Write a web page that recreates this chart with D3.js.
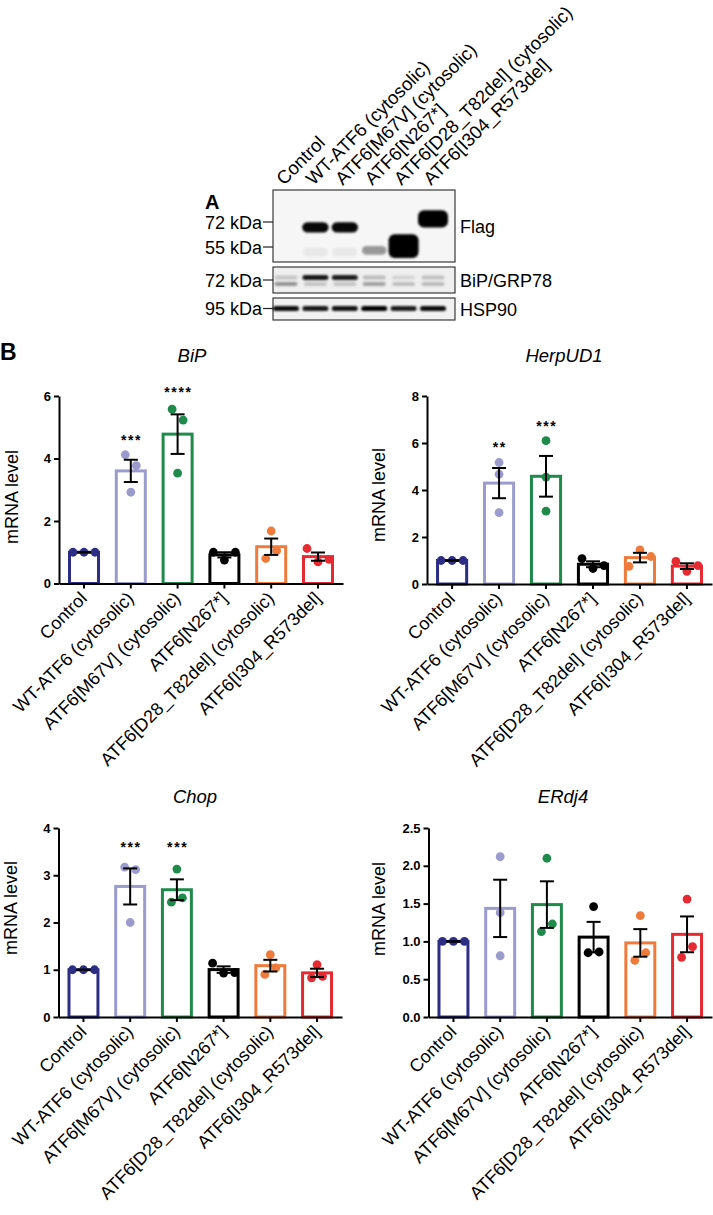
<!DOCTYPE html>
<html><head><meta charset="utf-8">
<script src="https://cdn.jsdelivr.net/npm/d3@7"></script>
<style>
body{margin:0;background:#fff;}
svg{display:block;font-family:"Liberation Sans",Arial,Helvetica,sans-serif;}
</style></head><body>
<svg id="fig" width="713" height="1215"></svg>
<script>
// ---------------- DATA ----------------
const groups = ["Control","WT-ATF6 (cytosolic)","ATF6[M67V] (cytosolic)","ATF6[N267*]","ATF6[D28_T82del] (cytosolic)","ATF6[I304_R573del]"];
const groupColors = ["#2D2E83","#9B9BCE","#1F8A4B","#000000","#EE7B3B","#E52A32"];

// Panel A – western blot
const flagMarkers = [72, 55];
const bipMarkers = [72];
const hspMarkers = [95];
const flagLane   = [1, 2, 3, 4, 5, 1, 2];
const flagKDa    = [68, 68, 53, 55.5, 74.5, 52, 52];
const flagSignal = [0.97, 0.97, 0.38, 1, 1, 0.06, 0.06];
const flagLoad   = [1.05, 1.05, 0.8, 3.3, 2.2, 0.8, 0.8];
const bipUpperKDa = 74, bipLowerKDa = 69;
const bipUpper = [0.18, 0.9, 0.88, 0.22, 0.12, 0.2];
const bipLower = [0.38, 0.18, 0.18, 0.32, 0.2, 0.22];
const hspKDa = 95;
const hspSignal = [0.95, 0.9, 0.92, 1, 0.88, 0.95];

// Panel B – mRNA levels (three replicates per group)
const bipPoints   = [[1,1,1],[4.12,3.77,2.92],[5.58,5.23,3.53],[1.0,0.75,1.0],[0.80,1.68,1.05],[1.12,0.69,0.77]];
const herpPoints  = [[1,1,1],[5.17,4.67,3.04],[6.1,4.55,3.1],[1.08,0.66,0.78],[0.75,1.45,1.17],[0.96,0.54,0.78]];
const chopPoints  = [[1,1,1],[3.17,3.12,2.0],[2.43,3.13,2.52],[1.14,0.93,0.94],[0.90,1.32,1.04],[0.83,1.11,0.86]];
const erdjPoints  = [[1,1,1],[2.12,1.38,0.81],[2.10,1.13,1.23],[1.46,0.85,0.86],[1.34,0.75,0.85],[1.56,0.79,0.93]];
const bipTicks  = [0,2,4,6];
const herpTicks = [0,2,4,6,8];
const chopTicks = [0,1,2,3,4];
const erdjTicks = [0,0.5,1,1.5,2,2.5];
const bipSig  = [null,"***","****",null,null,null];
const bipSigAt  = [null,4.70,6.23,null,null,null];
const herpSig = [null,"**","***",null,null,null];
const herpSigAt = [null,5.99,6.86,null,null,null];
const chopSig = [null,"***","***",null,null,null];
const chopSigAt = [null,3.68,3.68,null,null,null];

// ---------------- DRAW ----------------
const svg = d3.select("#fig");
const defs = svg.append("defs");
defs.append("filter").attr("id","blur").attr("x","-50%").attr("y","-100%").attr("width","200%").attr("height","300%")
  .append("feGaussianBlur").attr("stdDeviation",1.3);

// ---- Panel A ----
const gA = svg.append("g");
gA.append("text").attr("x",205).attr("y",209).attr("font-size",20).attr("font-weight","bold").text("A");

const laneX = d3.scalePoint().domain(d3.range(6)).range([286, 433]);
const blotL = 273, blotR = 455;
const boxes = [
  {y0:190, y1:262, name:"Flag", fill:"#f6f6f6"},
  {y0:267, y1:293, name:"BiP/GRP78", fill:"#efefef"},
  {y0:298, y1:320, name:"HSP90", fill:"#f1f1f1"}
];
function kdaScale(refKDa, refY){ return d3.scaleLog().domain([refKDa*Math.exp(-0.2693), refKDa]).range([refY+25, refY]); }
const flagY = kdaScale(72, 222);
const bipY  = kdaScale(72, 280);
const hspY  = kdaScale(95, 308.5);

boxes.forEach(b => {
  gA.append("rect").attr("x",blotL).attr("y",b.y0).attr("width",blotR-blotL).attr("height",b.y1-b.y0)
    .attr("fill",b.fill).attr("stroke","#3a3a3a").attr("stroke-width",1.2);
  gA.append("text").attr("x",blotR+5).attr("y",(b.y0+b.y1)/2+6.5).attr("font-size",18).text(b.name);
});

const bandG = gA.append("g").attr("filter","url(#blur)");
function band(cx, cy, w, h, a){
  bandG.append("rect").attr("x",cx-w/2).attr("y",cy-h/2).attr("width",w).attr("height",h)
    .attr("rx",Math.min(h/2,6)).attr("fill","#000").attr("fill-opacity",a);
}
flagLane.forEach((l,i) => {
  const load = flagLoad[i];
  band(laneX(l), flagY(flagKDa[i]), Math.min(30, 18+8*load), 4+6*load, flagSignal[i]);
});
bipUpper.forEach((a,i) => band(laneX(i), bipY(bipUpperKDa), a>0.5?26:23, a>0.5?5:4, a));
bipLower.forEach((a,i) => band(laneX(i), bipY(bipLowerKDa), 23, 4, a));
hspSignal.forEach((a,i) => band(laneX(i), hspY(hspKDa), 26, 5, a));

function markerLabels(markers, sc){
  markers.forEach(m => {
    const yy = sc(m);
    gA.append("line").attr("x1",blotL-10).attr("x2",blotL).attr("y1",yy).attr("y2",yy).attr("stroke","#222").attr("stroke-width",1.2);
    gA.append("text").attr("x",blotL-11).attr("y",yy+6.5).attr("text-anchor","end").attr("font-size",18).text(m+" kDa");
  });
}
markerLabels(flagMarkers, flagY);
markerLabels(bipMarkers, bipY);
markerLabels(hspMarkers, hspY);

groups.forEach((gname,i) => {
  gA.append("text").attr("transform",`translate(${laneX(i)-2},186) rotate(-45)`)
    .attr("font-size",18.5).text(gname);
});

// ---- Panel B ----
svg.append("text").attr("x",0).attr("y",360).attr("font-size",23).attr("font-weight","bold").text("B");

function layoutPoints(vals, y){
  // cluster nearby values (pixel distance) and spread them horizontally, replicate order left→right
  const idx = vals.map((v,i)=>i).sort((a,b)=>vals[a]-vals[b]);
  const clusters = [];
  idx.forEach(i => {
    const last = clusters[clusters.length-1];
    if (last && Math.abs(y(vals[i]) - y(vals[last[last.length-1]])) < 11.3) last.push(i);
    else clusters.push([i]);
  });
  const off = new Array(vals.length).fill(0);
  clusters.forEach(c => {
    c.sort((a,b)=>a-b);
    c.forEach((i,k) => off[i] = (k - (c.length-1)/2) * 11);
  });
  return off;
}

function barChart(cfg){
  const g = svg.append("g");
  const x = d3.scaleBand().domain(d3.range(6)).range([cfg.x0, cfg.x1]).paddingInner(0.316).paddingOuter(0.1923);
  const y = d3.scaleLinear().domain([0, cfg.yMax]).range([cfg.yBot, cfg.yTop]);
  const bw = x.bandwidth();
  const stats = cfg.points.map(p => {
    const m = d3.mean(p);
    const sem = d3.deviation(p)/Math.sqrt(p.length);
    return {m, sem};
  });

  // bars
  g.selectAll("rect.bar").data(stats).join("rect").attr("class","bar")
    .attr("x",(d,i)=>x(i)+1.5).attr("width",bw-3)
    .attr("y",d=>y(d.m)).attr("height",d=>y(0)-y(d.m))
    .attr("fill","#fff").attr("stroke",(d,i)=>groupColors[i]).attr("stroke-width",3);

  // points
  cfg.points.forEach((p,i) => {
    const off = layoutPoints(p, y);
    g.selectAll(null).data(p).join("circle")
      .attr("cx",(v,k)=>x(i)+bw/2+off[k]).attr("cy",v=>y(v)).attr("r",4.4)
      .attr("fill",groupColors[i]);
  });

  // error bars
  stats.forEach((s,i) => {
    const cx = x(i)+bw/2;
    const eg = g.append("g").attr("stroke","#000").attr("stroke-width",2);
    eg.append("line").attr("x1",cx).attr("x2",cx).attr("y1",y(s.m-s.sem)).attr("y2",y(s.m+s.sem));
    [s.m-s.sem, s.m+s.sem].forEach(v => eg.append("line").attr("x1",cx-7).attr("x2",cx+7).attr("y1",y(v)).attr("y2",y(v)));
  });

  // significance
  if (cfg.sig) cfg.sig.forEach((s,i) => {
    if (!s) return;
    g.append("text").attr("x",x(i)+bw/2+0.8).attr("y",y(cfg.sigAt[i])+8.5)
      .attr("text-anchor","middle").attr("font-size",14).attr("font-weight","bold")
      .attr("letter-spacing",1.6).text(s);
  });

  // axes
  const ya = g.append("g").attr("transform",`translate(${cfg.x0},0)`)
    .call(d3.axisLeft(y).tickValues(cfg.ticks).tickSize(5).tickSizeOuter(0).tickPadding(3).tickFormat(cfg.fmt));
  const xa = g.append("g").attr("transform",`translate(0,${cfg.yBot})`)
    .call(d3.axisBottom(x).tickSize(5).tickSizeOuter(0).tickFormat(i=>groups[i]));
  [ya, xa].forEach(a => {
    a.select(".domain").attr("stroke","#000").attr("stroke-width",2);
    a.selectAll(".tick line").attr("stroke","#000").attr("stroke-width",2);
  });
  ya.selectAll(".tick text").attr("font-size",13).attr("font-weight","bold").attr("fill","#000")
    .attr("font-family",'"Liberation Sans",Arial,sans-serif');
  xa.selectAll(".tick text").attr("font-size",18).attr("fill","#000").attr("text-anchor","end")
    .attr("font-family",'"Liberation Sans",Arial,sans-serif')
    .attr("x",0).attr("y",0).attr("dy",0).attr("transform","translate(4,16) rotate(-45)");

  // titles
  g.append("text").attr("x",cfg.titleX).attr("y",cfg.titleY).attr("text-anchor","middle")
    .attr("font-size",18.5).attr("font-style","italic").text(cfg.title);
  g.append("text").attr("transform",`translate(${cfg.ylabX},${cfg.ylabY}) rotate(-90)`)
    .attr("text-anchor","middle").attr("font-size",18).text("mRNA level");
}

barChart({title:"BiP", points:bipPoints, ticks:bipTicks, fmt:d3.format("d"), yMax:6,
  x0:59, x1:343, yTop:396, yBot:583.5, titleX:192, titleY:362, ylabX:18, ylabY:497, sig:bipSig, sigAt:bipSigAt});
barChart({title:"HerpUD1", points:herpPoints, ticks:herpTicks, fmt:d3.format("d"), yMax:8,
  x0:427, x1:712, yTop:396, yBot:584, titleX:564, titleY:362, ylabX:385, ylabY:495, sig:herpSig, sigAt:herpSigAt});
barChart({title:"Chop", points:chopPoints, ticks:chopTicks, fmt:d3.format("d"), yMax:4,
  x0:58.5, x1:342, yTop:828, yBot:1017, titleX:195, titleY:803, ylabX:17, ylabY:908, sig:chopSig, sigAt:chopSigAt});
barChart({title:"ERdj4", points:erdjPoints, ticks:erdjTicks, fmt:d3.format(".1f"), yMax:2.5,
  x0:428.5, x1:712, yTop:828, yBot:1017, titleX:563, titleY:803, ylabX:385, ylabY:909});
</script>
</body></html>
